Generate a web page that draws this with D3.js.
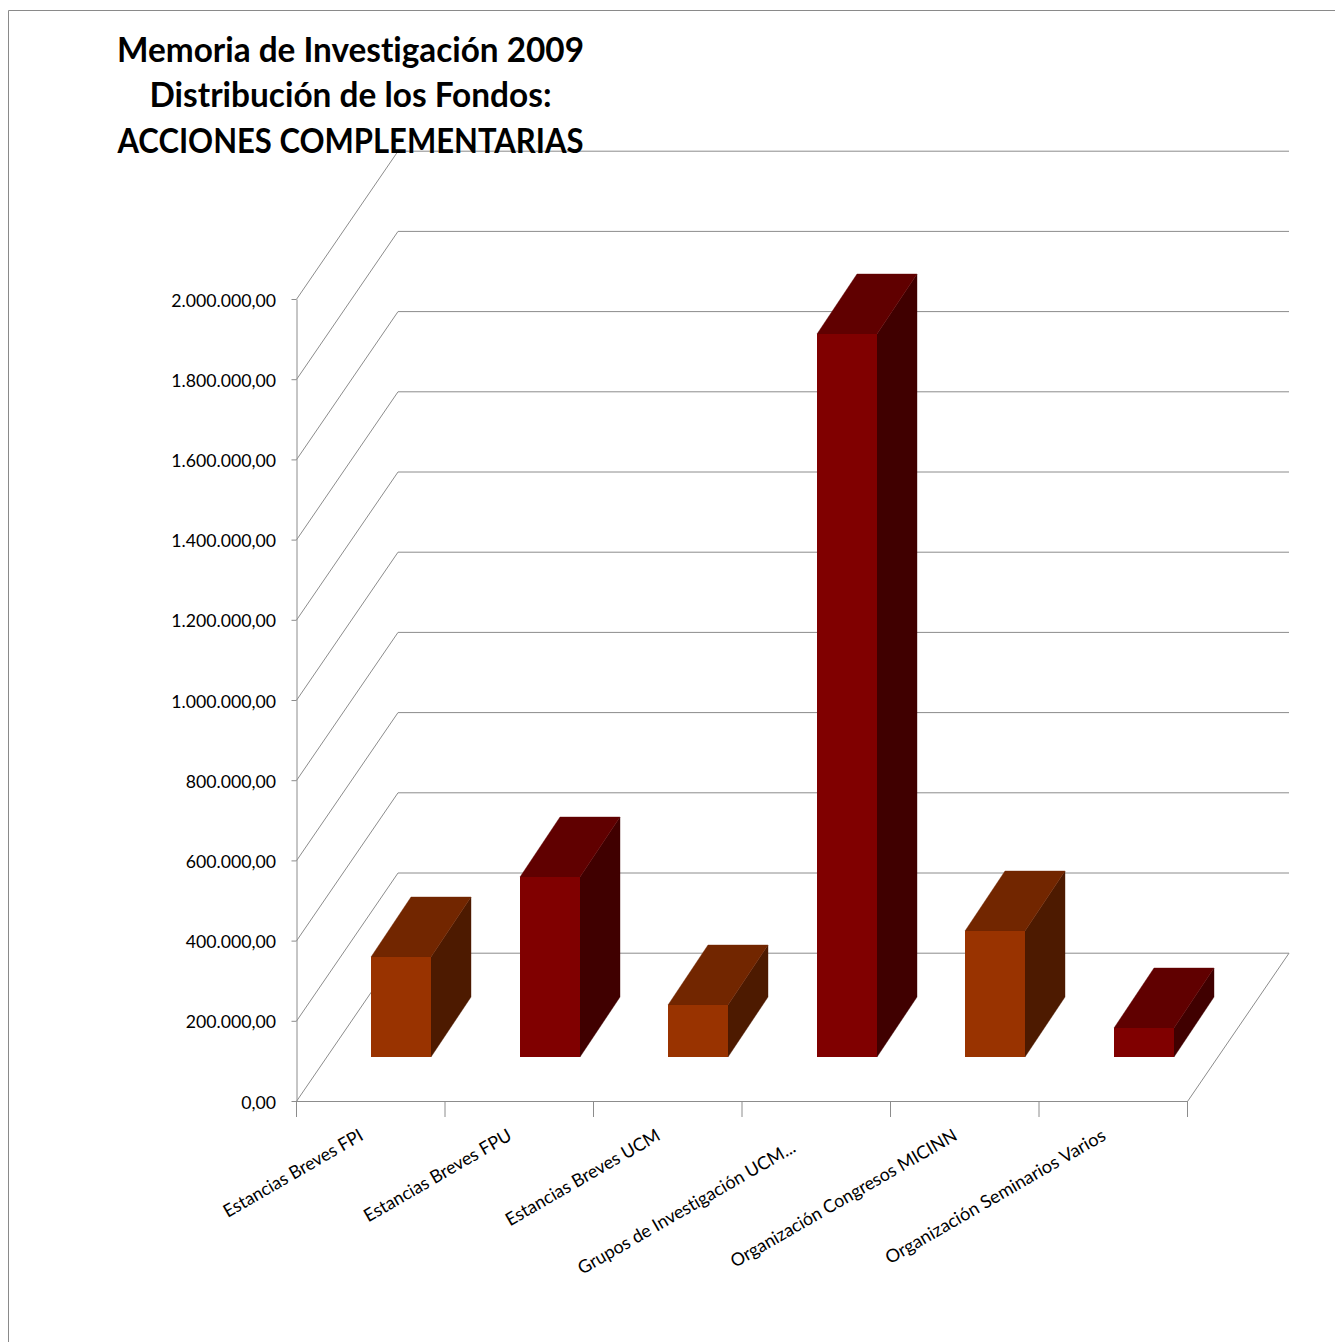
<!DOCTYPE html>
<html lang="es">
<head>
<meta charset="utf-8">
<script src="https://cdn.jsdelivr.net/npm/d3@7"></script>
<style>
html,body{margin:0;padding:0;background:#fff}
svg{display:block}
text{font-family:Lato,"Open Sans",sans-serif;fill:#000;font-variant-ligatures:none}
</style>
</head>
<body>
<svg id="c" width="1335" height="1342"></svg>
<script>
const titleLines = ["Memoria de Investigación 2009","Distribución de los Fondos:","ACCIONES COMPLEMENTARIAS"];
const categories = ["Estancias Breves FPI","Estancias Breves FPU","Estancias Breves UCM","Grupos de Investigación UCM...","Organización Congresos MICINN","Organización Seminarios Varios"];
const values = [250000,449000,130000,1803000,314000,72000];
const barGroups = ["o","r","o","r","o","r"];
const yTicks = [0,200000,400000,600000,800000,1000000,1200000,1400000,1600000,1800000,2000000];
const palette = {o:{front:"#993300",top:"#722600",side:"#4d1a00"},r:{front:"#800000",top:"#600000",side:"#400000"}};

const W=1335,H=1342, X0=296.5,X1=1187.5,Y0=1101,Y1=299, DX=101,DY=148, Z0=0.297, BARW=60, BAR_DX=40, BAR_DY=60;
const svg=d3.select("#c");
const x=d3.scaleBand().domain(categories).range([X0,X1]);
const y=d3.scaleLinear().domain([0,2000000]).range([Y0,Y1]);
const fmt=d3.formatLocale({decimal:",",thousands:".",grouping:[3],currency:["","€"]}).format(",.2f");
const GRID="#8c8c8c";

// frame
svg.append("path").attr("d",`M8.5,${H}V10.5H${W}`).attr("fill","none").attr("stroke","#8a8a8a").attr("stroke-width",1);

// walls
svg.append("g").selectAll("path").data(yTicks).join("path")
  .attr("d",v=>`M${X0},${y(v)+.3}L${X0+DX+.5},${y(v)-DY+.2}H${X1+DX+.5}`)
  .attr("fill","none").attr("stroke",GRID).attr("stroke-width",1);
// floor right edge
svg.append("path").attr("d",`M${X1+DX+.5},${Y0-DY+.2}L${X1},${Y0+.5}`).attr("fill","none").attr("stroke",GRID);

// bars
const bars=svg.append("g").selectAll("g").data(categories.map((c,i)=>({c,v:values[i],col:palette[barGroups[i]]}))).join("g");
const fx=d=>Math.ceil(x(d.c)+x.bandwidth()/2-BARW/2+Z0*DX);
const base=()=>Math.round(y(0)-Z0*DY);
const barH=d=>Math.round(y(0)-y(d.v));
bars.append("path").attr("fill",d=>d.col.side).attr("stroke",d=>d.col.side).attr("stroke-width",.4)
  .attr("d",d=>{const l=fx(d)+BARW,b=base(),t=b-barH(d);return `M${l},${b}L${l+BAR_DX},${b-BAR_DY}V${t-BAR_DY}L${l},${t}Z`;});
bars.append("path").attr("fill",d=>d.col.top).attr("stroke",d=>d.col.top).attr("stroke-width",.4)
  .attr("d",d=>{const l=fx(d),t=base()-barH(d);return `M${l},${t}L${l+BAR_DX},${t-BAR_DY}H${l+BARW+BAR_DX}L${l+BARW},${t}Z`;});
bars.append("rect").attr("fill",d=>d.col.front)
  .attr("x",fx).attr("width",BARW).attr("y",d=>base()-barH(d)).attr("height",barH);

// y axis
const ya=svg.append("g").attr("transform",`translate(${X0},0)`)
  .call(d3.axisLeft(y).tickValues(yTicks).tickFormat(fmt).tickSize(5).tickPadding(15.5).tickSizeOuter(0));
ya.selectAll("path,line").attr("stroke",GRID);
ya.selectAll("text").attr("font-size",17.7).attr("fill","#000").attr("font-family",'Lato,sans-serif')
  .attr("dy","0.4em");
svg.append("path").attr("d",`M${X0},${Y0}V${Y0+16}`).attr("stroke",GRID);

// x axis
svg.append("path").attr("d",`M${X0},${Y0+.5}H${X1}`).attr("stroke",GRID).attr("fill","none");
const edges=categories.map(c=>x(c)).concat([X1]);
svg.append("g").selectAll("path").data(edges).join("path")
  .attr("d",e=>`M${e},${Y0}V${Y0+16}`).attr("stroke",GRID);

// category labels
const labelLengths=[158,167,175,248,258,251];
const labelY=[1127,1127,1127,1139,1127,1127];
svg.append("g").selectAll("text").data(categories).join("text")
  .attr("text-anchor","end").attr("font-size",18)
  .attr("textLength",(c,i)=>labelLengths[i]).attr("lengthAdjust","spacingAndGlyphs")
  .attr("transform",(c,i)=>`translate(${edges[i+1]-(i==3?93.5:80.5)},${labelY[i]+12}) rotate(-30)`)
  .text(c=>c);

// title
const titleWidths=[467,402,466];
svg.append("g").selectAll("text").data(titleLines).join("text")
  .attr("x",350.5).attr("y",(d,i)=>[62,107,153][i]).attr("text-anchor","middle")
  .attr("font-size",33.5).attr("font-weight",700)
  .attr("textLength",(d,i)=>titleWidths[i]).attr("lengthAdjust","spacingAndGlyphs").text(d=>d);
</script>
</body>
</html>
